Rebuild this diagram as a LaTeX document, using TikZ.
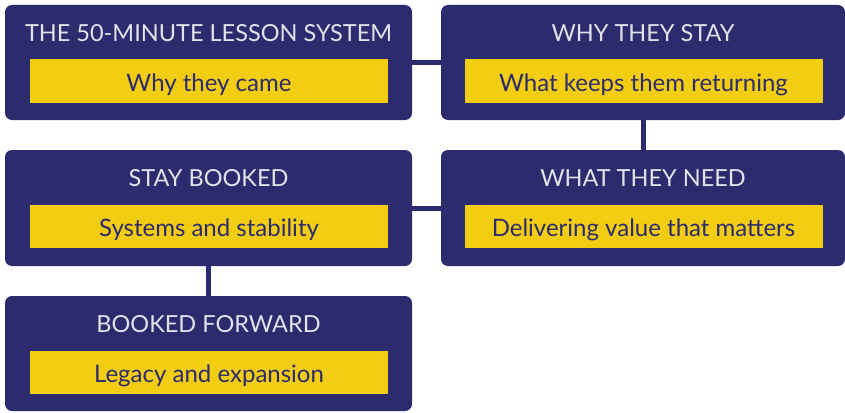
\documentclass[tikz,border=0pt]{standalone}
\usepackage{fontspec}
\setmainfont{Lato}
\definecolor{navy}{HTML}{2C2B6E}
\definecolor{gold}{HTML}{F2CD12}
\definecolor{titlegrey}{HTML}{E2E2EA}
\begin{document}
\begin{tikzpicture}[x=1pt,y=-1pt,
  card/.style={fill=navy,rounded corners=7pt,inner sep=0pt,minimum width=407pt,minimum height=115pt},
  bar/.style={fill=gold,inner sep=0pt,minimum width=358pt,minimum height=43pt,text height=20pt,text depth=0pt,text=navy,font=\fontsize{24}{28}\selectfont},
  ttl/.style={text=titlegrey,inner sep=0pt,text height=16.8pt,text depth=0pt,font=\fontsize{23.5}{28}\selectfont},
  link/.style={draw=navy,line width=5pt}]
\useasboundingbox (0,0) rectangle (845,412);
\node[card] (b1) at (208.5,62.5) {};
\node[card,minimum width=404pt] (b2) at (643,62.5) {};
\node[card,minimum height=116pt] (b3) at (208.5,208) {};
\node[card,minimum width=404pt,minimum height=116pt] (b4) at (643,208) {};
\node[card] (b5) at (208.5,353.5) {};
\draw[link] (b1.east) -- (b2.west);
\draw[link] (b2.south) -- (b4.north);
\draw[link] (b4.west) -- (b3.east);
\draw[link] (b3.south) -- (b5.north);
\node[ttl] (t1) at (208.5,33.3) {THE 50-MINUTE LESSON SYSTEM};
\node[ttl] (t2) at (643,33.3) {WHY THEY STAY};
\node[ttl] (t3) at (208.5,178.5) {STAY BOOKED};
\node[ttl] (t4) at (643,178.5) {WHAT THEY NEED};
\node[ttl] (t5) at (208.5,324.3) {BOOKED FORWARD};
\node[bar] (y1) at (209,81) {Why they came};
\node[bar] (y2) at (643.5,81) {What keeps them returning};
\node[bar] (y3) at (209,226.5) {Systems and stability};
\node[bar] (y4) at (643.5,226.5) {Delivering value that matters};
\node[bar] (y5) at (209,372) {Legacy and expansion};
\end{tikzpicture}
\end{document}
